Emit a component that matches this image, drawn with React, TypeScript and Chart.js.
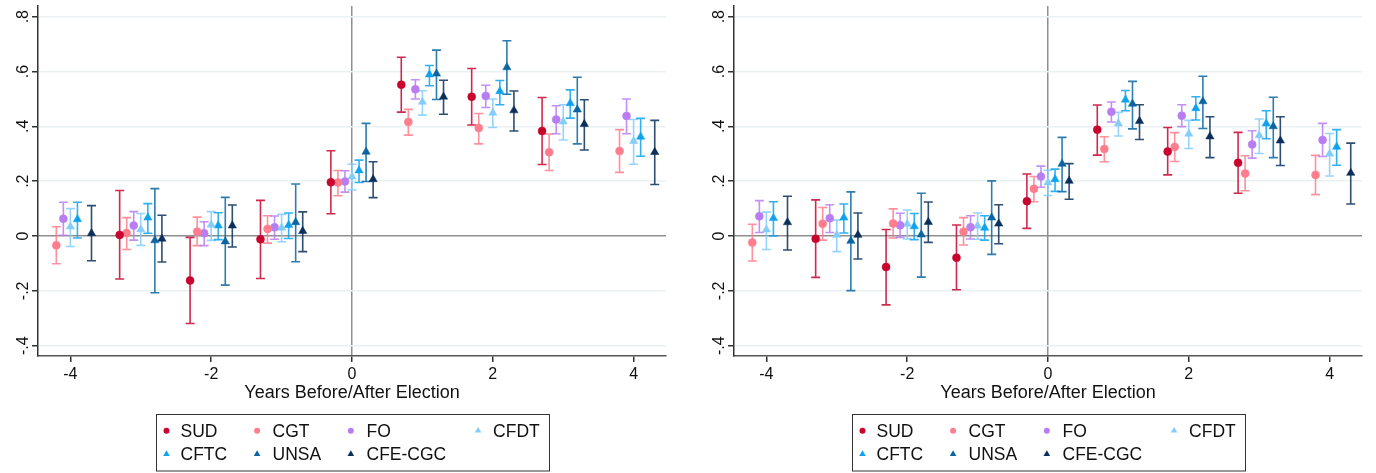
import React, { useEffect, useRef } from "react";
import { Chart, registerables } from "chart.js";

Chart.register(...registerables);

const YEARS = [-4, -3, -2, -1, 0, 1, 2, 3, 4];
const SERIES = ["SUD", "CGT", "FO", "CFDT", "CFTC", "UNSA", "CFE-CGC"];
const OFFSETS = [-0.3, -0.2, -0.1, 0, 0.1, 0.2, 0.3];
const COLORS = ["#c8042f", "#ff7d8d", "#b97df2", "#84cdfb", "#0ea2ef", "#0b65a1", "#0b2f5b"];
const SHAPES = ["circle", "circle", "circle", "triangle", "triangle", "triangle", "triangle"];
const X_TICKS = [-4, -2, 0, 2, 4];
const Y_TICKS = [-0.4, -0.2, 0, 0.2, 0.4, 0.6, 0.8];
const X_TITLE = "Years Before/After Election";

// ---------- Left panel ----------
const L_SUD = [null, 0.004, -0.162, -0.012, 0.196, 0.552, 0.508, 0.383, null];
const L_SUD_LO = [null, -0.157, -0.319, -0.155, 0.081, 0.452, 0.405, 0.261, null];
const L_SUD_HI = [null, 0.166, -0.005, 0.13, 0.311, 0.652, 0.611, 0.505, null];
const L_CGT = [-0.034, 0.011, 0.016, 0.026, 0.195, 0.416, 0.394, 0.306, 0.31];
const L_CGT_LO = [-0.101, -0.049, -0.035, -0.026, 0.147, 0.368, 0.336, 0.239, 0.232];
const L_CGT_HI = [0.034, 0.067, 0.069, 0.074, 0.239, 0.462, 0.447, 0.372, 0.388];
const L_FO = [0.063, 0.038, 0.01, 0.032, 0.199, 0.535, 0.511, 0.425, 0.438];
const L_FO_LO = [0.003, -0.015, -0.035, -0.012, 0.16, 0.5, 0.469, 0.373, 0.373];
const L_FO_HI = [0.123, 0.089, 0.052, 0.073, 0.238, 0.57, 0.55, 0.475, 0.5];
const L_CFDT = [0.034, 0.024, 0.041, 0.03, 0.217, 0.489, 0.449, 0.417, 0.346];
const L_CFDT_LO = [-0.038, -0.034, -0.016, -0.021, 0.168, 0.441, 0.396, 0.35, 0.262];
const L_CFDT_HI = [0.1, 0.082, 0.089, 0.079, 0.262, 0.53, 0.5, 0.479, 0.425];
const L_CFTC = [0.061, 0.067, 0.038, 0.04, 0.239, 0.589, 0.528, 0.484, 0.362];
const L_CFTC_LO = [-0.007, 0.01, -0.013, -0.009, 0.195, 0.548, 0.479, 0.43, 0.291];
const L_CFTC_HI = [0.123, 0.118, 0.085, 0.084, 0.277, 0.622, 0.567, 0.533, 0.429];
const L_UNSA = [null, -0.016, -0.02, 0.05, 0.307, 0.592, 0.615, 0.461, null];
const L_UNSA_LO = [null, -0.207, -0.179, -0.094, 0.199, 0.498, 0.517, 0.336, null];
const L_UNSA_HI = [null, 0.173, 0.141, 0.19, 0.411, 0.678, 0.712, 0.579, null];
const L_CFE = [0.01, -0.01, 0.038, 0.018, 0.207, 0.508, 0.458, 0.408, 0.306];
const L_CFE_LO = [-0.09, -0.095, -0.04, -0.057, 0.14, 0.444, 0.383, 0.314, 0.188];
const L_CFE_HI = [0.111, 0.076, 0.113, 0.088, 0.271, 0.568, 0.529, 0.497, 0.422];

// ---------- Right panel ----------
const R_SUD = [null, -0.01, -0.113, -0.079, 0.127, 0.388, 0.308, 0.267, null];
const R_SUD_LO = [null, -0.151, -0.251, -0.196, 0.028, 0.295, 0.223, 0.156, null];
const R_SUD_HI = [null, 0.132, 0.024, 0.04, 0.226, 0.478, 0.396, 0.378, null];
const R_CGT = [-0.024, 0.045, 0.046, 0.016, 0.172, 0.317, 0.325, 0.228, 0.223];
const R_CGT_LO = [-0.091, -0.015, -0.007, -0.033, 0.125, 0.271, 0.272, 0.165, 0.151];
const R_CGT_HI = [0.043, 0.104, 0.099, 0.067, 0.217, 0.362, 0.377, 0.293, 0.294];
const R_FO = [0.072, 0.065, 0.039, 0.032, 0.217, 0.453, 0.439, 0.334, 0.35];
const R_FO_LO = [0.013, 0.013, -0.005, -0.011, 0.178, 0.416, 0.399, 0.284, 0.29];
const R_FO_HI = [0.129, 0.114, 0.083, 0.074, 0.255, 0.489, 0.479, 0.384, 0.411];
const R_CFDT = [0.023, 0.004, 0.044, 0.037, 0.195, 0.41, 0.373, 0.367, 0.3];
const R_CFDT_LO = [-0.049, -0.057, -0.011, -0.012, 0.148, 0.365, 0.319, 0.301, 0.219];
const R_CFDT_HI = [0.087, 0.058, 0.095, 0.084, 0.24, 0.451, 0.422, 0.427, 0.374];
const R_CFTC = [0.065, 0.067, 0.035, 0.03, 0.207, 0.497, 0.466, 0.41, 0.325];
const R_CFTC_LO = [0.0, 0.011, -0.013, -0.015, 0.163, 0.457, 0.423, 0.355, 0.258];
const R_CFTC_HI = [0.125, 0.117, 0.082, 0.074, 0.244, 0.531, 0.508, 0.457, 0.388];
const R_UNSA = [null, -0.018, 0.005, 0.067, 0.263, 0.482, 0.491, 0.4, null];
const R_UNSA_LO = [null, -0.199, -0.15, -0.067, 0.162, 0.391, 0.392, 0.286, null];
const R_UNSA_HI = [null, 0.161, 0.156, 0.201, 0.36, 0.564, 0.583, 0.506, null];
const R_CFE = [0.05, 0.004, 0.051, 0.045, 0.201, 0.419, 0.363, 0.348, 0.23];
const R_CFE_LO = [-0.051, -0.084, -0.023, -0.028, 0.134, 0.352, 0.286, 0.257, 0.117];
const R_CFE_HI = [0.145, 0.084, 0.124, 0.114, 0.264, 0.479, 0.435, 0.435, 0.339];

const LEFT_VALS = [L_SUD, L_CGT, L_FO, L_CFDT, L_CFTC, L_UNSA, L_CFE];
const LEFT_LO = [L_SUD_LO, L_CGT_LO, L_FO_LO, L_CFDT_LO, L_CFTC_LO, L_UNSA_LO, L_CFE_LO];
const LEFT_HI = [L_SUD_HI, L_CGT_HI, L_FO_HI, L_CFDT_HI, L_CFTC_HI, L_UNSA_HI, L_CFE_HI];
const RIGHT_VALS = [R_SUD, R_CGT, R_FO, R_CFDT, R_CFTC, R_UNSA, R_CFE];
const RIGHT_LO = [R_SUD_LO, R_CGT_LO, R_FO_LO, R_CFDT_LO, R_CFTC_LO, R_UNSA_LO, R_CFE_LO];
const RIGHT_HI = [R_SUD_HI, R_CGT_HI, R_FO_HI, R_CFDT_HI, R_CFTC_HI, R_UNSA_HI, R_CFE_HI];

const FONT = "'Liberation Sans', Arial, Helvetica, sans-serif";

function hexA(hex: string, a: number) {
  const n = parseInt(hex.slice(1), 16);
  return `rgba(${(n >> 16) & 255},${(n >> 8) & 255},${n & 255},${a})`;
}

function buildDatasets(vals: any[], los: any[], his: any[]) {
  return SERIES.map((name, i) => ({
    label: name,
    data: YEARS.map((yr, j) =>
      vals[i][j] == null ? null : { x: yr + OFFSETS[i], y: vals[i][j], lo: los[i][j], hi: his[i][j] }
    ).filter((d) => d !== null),
    pointStyle: SHAPES[i],
    pointRadius: SHAPES[i] === "circle" ? 4 : 4.8,
    pointHoverRadius: SHAPES[i] === "circle" ? 4 : 4.8,
    pointBorderWidth: 0.5,
    backgroundColor: COLORS[i],
    borderColor: COLORS[i],
    showLine: false,
  }));
}

function fmtY(v: number) {
  const r = Math.round(v * 10) / 10;
  if (r === 0) return "0";
  const s = Math.abs(r).toFixed(1).replace(/^0/, "");
  return (r < 0 ? "-" : "") + s;
}

const errorBarPlugin = {
  id: "errorBars",
  beforeDatasetsDraw(chart: any) {
    const { ctx, scales } = chart;
    const xs = scales.x;
    const ys = scales.y;
    ctx.save();
    chart.data.datasets.forEach((ds: any, i: number) => {
      ctx.strokeStyle = hexA(COLORS[i], 0.85);
      ctx.lineWidth = 1.6;
      ds.data.forEach((d: any) => {
        const x = xs.getPixelForValue(d.x);
        const yl = ys.getPixelForValue(d.lo);
        const yh = ys.getPixelForValue(d.hi);
        const cw = 4.5;
        ctx.beginPath();
        ctx.moveTo(x, yl);
        ctx.lineTo(x, yh);
        ctx.moveTo(x - cw, yl);
        ctx.lineTo(x + cw, yl);
        ctx.moveTo(x - cw, yh);
        ctx.lineTo(x + cw, yh);
        ctx.stroke();
      });
    });
    ctx.restore();
  },
};

const decorPlugin = {
  id: "decor",
  afterDraw(chart: any) {
    const { ctx, chartArea, scales } = chart;
    const ys = scales.y;
    ctx.save();
    // y tick labels, rotated
    ctx.fillStyle = "#111";
    ctx.font = `16px ${FONT}`;
    ctx.textAlign = "center";
    ctx.textBaseline = "middle";
    Y_TICKS.forEach((v) => {
      const y = ys.getPixelForValue(v);
      ctx.save();
      ctx.translate(chartArea.left - 14, y);
      ctx.rotate(-Math.PI / 2);
      ctx.fillText(fmtY(v), 0, 0);
      ctx.restore();
    });
    // x title
    const cx = (chartArea.left + chartArea.right) / 2;
    ctx.font = `18px ${FONT}`;
    ctx.fillText(X_TITLE, cx, chartArea.bottom + 37);
    // legend
    const bw = 393;
    const bx = cx - bw / 2;
    const by = chartArea.bottom + 58;
    const bh = 56.5;
    ctx.strokeStyle = "#333";
    ctx.lineWidth = 1;
    ctx.strokeRect(Math.round(bx) + 0.5, Math.round(by) + 0.5, bw, bh);
    const mx = [11, 101.6, 195.3, 322.6];
    const tx = [25, 117, 211, 337.6];
    const ry = [16.7, 40];
    ctx.font = `17.5px ${FONT}`;
    ctx.textAlign = "left";
    ctx.textBaseline = "middle";
    chart.data.datasets.forEach((ds: any, i: number) => {
      const col = i % 4;
      const row = Math.floor(i / 4);
      const px = bx + mx[col];
      const py = by + ry[row];
      ctx.fillStyle = COLORS[i];
      ctx.beginPath();
      if (SHAPES[i] === "circle") {
        ctx.arc(px, py, 3, 0, Math.PI * 2);
      } else {
        const r = 3.8;
        ctx.moveTo(px, py - r);
        ctx.lineTo(px + r * 0.866, py + r * 0.5);
        ctx.lineTo(px - r * 0.866, py + r * 0.5);
        ctx.closePath();
      }
      ctx.fill();
      ctx.fillStyle = "#111";
      ctx.fillText(ds.label, bx + tx[col], py + 1);
    });
    ctx.restore();
  },
};

function Panel({ vals, los, his, width, padRight }: any) {
  const ref = useRef<HTMLCanvasElement | null>(null);
  useEffect(() => {
    if (!ref.current) return;
    const chart = new Chart(ref.current, {
      type: "scatter",
      data: { datasets: buildDatasets(vals, los, his) as any },
      options: {
        responsive: false,
        animation: false,
        events: [],
        layout: { padding: { left: 0, right: padRight, top: 6, bottom: 0 } },
        plugins: { legend: { display: false }, tooltip: { enabled: false } },
        scales: {
          x: {
            type: "linear",
            min: -4.46,
            max: 4.46,
            afterFit(scale: any) {
              scale.height = 117;
            },
            afterBuildTicks(scale: any) {
              scale.ticks = X_TICKS.map((v) => ({ value: v }));
            },
            ticks: {
              font: { family: FONT, size: 16 },
              color: "#111",
              padding: 3,
              maxRotation: 0,
              callback: (v: any) => String(v),
            },
            grid: {
              drawOnChartArea: true,
              drawTicks: true,
              tickLength: 6,
              tickColor: "#333",
              lineWidth: 1.5,
              color: (c: any) => (c.tick && c.tick.value === 0 ? "#8e8e8e" : "rgba(0,0,0,0)"),
            },
            border: { display: true, color: "#555", width: 1.5 },
          },
          y: {
            type: "linear",
            min: -0.4376,
            max: 0.839,
            afterFit(scale: any) {
              scale.width = 38;
            },
            afterBuildTicks(scale: any) {
              scale.ticks = Y_TICKS.map((v) => ({ value: v }));
            },
            ticks: { display: false },
            grid: {
              drawOnChartArea: true,
              drawTicks: true,
              tickLength: 6,
              tickColor: "#333",
              lineWidth: 1.5,
              color: (c: any) => (c.tick && Math.abs(c.tick.value) < 1e-9 ? "#8e8e8e" : "#e9f1f3"),
            },
            border: { display: true, color: "#333", width: 1.5 },
          },
        },
      },
      plugins: [errorBarPlugin, decorPlugin],
    });
    return () => chart.destroy();
  }, []);
  return <canvas ref={ref} width={width} height={473} style={{ display: "block", width, height: 473 }} />;
}

export default function App() {
  return (
    <div
      style={{
        position: "absolute",
        left: 0,
        top: 0,
        width: 1376,
        height: 473,
        overflow: "hidden",
        background: "#fff",
      }}
    >
      <div style={{ position: "absolute", left: 0, top: 0 }}>
        <Panel vals={LEFT_VALS} los={LEFT_LO} his={LEFT_HI} width={688} padRight={22} />
      </div>
      <div style={{ position: "absolute", left: 696, top: 0 }}>
        <Panel vals={RIGHT_VALS} los={RIGHT_LO} his={RIGHT_HI} width={680} padRight={14} />
      </div>
    </div>
  );
}
